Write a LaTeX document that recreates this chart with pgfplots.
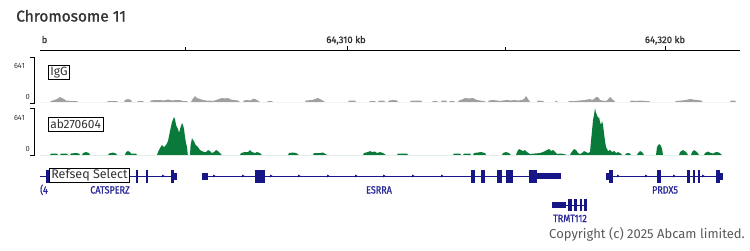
\documentclass[border=0pt]{standalone}
\usepackage{fontspec}
\setmainfont{Fira Sans}
\newfontfamily\semib[FakeBold=1.2]{Fira Sans}
\newfontfamily\condfont[FakeStretch=0.86, FakeBold=1.0]{Fira Sans}
\usepackage{pgfplots}
\usepackage{pgfplotstable}
\pgfplotsset{compat=1.18}
\definecolor{chip}{RGB}{10,122,58}
\definecolor{igg}{RGB}{160,160,160}
\definecolor{genec}{RGB}{22,22,135}
\definecolor{genel}{RGB}{40,40,150}
\definecolor{txt}{RGB}{51,51,51}
% signal heights (pixels above the track baseline; full scale 641 = 47 px)
\pgfplotstableread{
x h
40 0
50 0
51 1.5
57 1.5
58 0
60 0
61 1.5
67 1.5
68 0
70 0
71 1.5
76 2
79 1.5
80 0
82 0
83 2
86 3
89 2
90 0
108 0
109 1.5
113 2.5
116 1.5
117 0
125 0
126 3
128 4
130 3
131 1.5
136 1.5
137 0
157 0
158 3
160 7
162 10
164 8
166 10
168 14
170 24
172 33
174 38
175 36
176 30
177 28
178 26
179 22
180 26
182 32
183 30
184 26
185 18
186 12
187 8
187.8 0
190 0
190.6 10
192 17
193 15
194 14
195 11
196 10
198 8
200 5
202 4
204 3
206 3
208 5
210 4
212 2
214 3
216 5
218 4
220 2
222 0
240 0
241 2
245 3
248 3
250 5
252 3
255 2
257 3
260 2
262 0
288 0
289 2
293 2.5
296 2
299 0
313 0
314 2
320 2
323 2.5
327 0
363 0
364 2
368 3
370 4
372 3
375 3.5
377 2
380 3
383 2
386 0
397 0
398 1.5
407 1.5
408 0
453 0
454 1.5
460 1.5
461 0
463 0
464 1.5
470 1.5
471 0
473 0
474 2
478 2.5
481 3
485 2
486 0
502 0
503 2
506 3
509 2
511 0
516 0
517 3
519 6
521 5
523 4
525 5
527 3
530 1
535 1.5
540 2
543 3
545 4
547 5
549 6
551 4
553 5
555 3
557 1
560 1.5
564 1
567 0
570 0
571 2
574 6
576 5
578 2
580 1
582 2
584 4
586 3
588 2
590 3
591 14
592 24
593 35
594 40
595 47
596 42
597 40
598 37
599 38
600 33
601 30
602 34
603 30
604 22
605 14
606 8
607 6
608 4
610 5
612 3
614 4
616 2
618 3
620 2
622 0
625 0
626 1.5
629 2
631 0
637 0
638 2
640 4
642 3
644 0
656 0
657 8
659 11
661 9
662 6
663 0
679 0
680 3
683 5
686 3
688 0
691 0
692 3
694 5
697 3
699 0
704 0
705 2
708 3.5
711 2
713 1.5
716 3
719 2.5
722 0
}\chiptab
\pgfplotstableread{
x h
40 0
50 0
51 1
54 2
57 3
60 5
62 4
64 3
66 1.5
70 1
77 1
78 0
107 0
108 1
117 1
118 0
124 0
125 2
128 3
131 2
132 0
137 0
138 1
143 1
144 0
150 0
151 1.5
155 2
160 2
164 1.5
168 2.5
172 1.5
176 2
180 2
183 1
187 1
188 0
191 0
192 2
195 6
197 4
200 3
203 2
206 1.5
210 1.5
213 1
216 2
219 3
222 4
225 3.5
228 4
231 2.5
234 2
238 1.5
240 0
243 0
244 1.5
247 2
250 1.5
254 3.5
257 2
260 0
267 0
268 1
272 1
273 0
305 0
306 1.5
312 2
315 3
318 4
320 3
322 2
325 0
348 0
349 1.5
355 1.5
356 0
369 0
370 1
375 1
376 0
378 0
379 1.5
384 1.5
385 0
388 0
389 1.5
394 2
397 1.5
398 0
410 0
411 1.5
421 1.5
422 0
432 0
433 1
437 1
438 0
441 0
442 1.5
446 1.5
447 0
449 0
450 1
454 1
455 0
458 0
459 1.5
462 2.5
465 4
469 3.5
473 4
477 2
480 1.5
484 1
486 0
488 0
489 1.5
493 2
497 1.5
500 1
503 1.5
507 2
511 1.5
514 2
518 1.5
522 2
524 3
526 6
528 3
530 0
537 0
538 1.5
543 1
544 0
555 0
556 1.5
558 0
568 0
569 1
575 1
580 1.5
585 2
590 3
592 2
594 3
596 5
598 5
600 2
602 1.5
606 1
608 2.5
610 5
612 3
614 1.5
615 0
630 0
631 1.5
636 1
640 1.5
645 1
649 1
650 0
675 0
676 1
682 1.5
686 2
690 3
693 2.5
697 2
701 1.5
703 0
730 0
731 1.5
735 1.5
736 0
}\iggtab
\begin{document}
\begin{tikzpicture}
\begin{axis}[scale only axis, width=750pt, height=250pt,
  xmin=0, xmax=750, ymin=0, ymax=250, y dir=reverse,
  hide axis, clip=false, unbounded coords=jump]
% title
\node[anchor=base west, font=\semib\fontsize{15.5}{15.5}\selectfont, text=txt, inner sep=0pt] at (axis cs:16,21.5) {Chromosome 11};
% ruler
\addplot[black, line width=0.9pt] coordinates {(40,50) (740,50)};
\addplot[black, line width=0.6pt] coordinates {(185,47) (185,50) (185,nan) (347,46) (347,50) (347,nan) (505,47) (505,50) (505,nan) (665,46) (665,50)};
\node[anchor=base, font=\semib\fontsize{9.5}{9.5}\selectfont, text=txt, inner sep=0pt] at (axis cs:346,43) {64,310 kb};
\node[anchor=base, font=\semib\fontsize{9.5}{9.5}\selectfont, text=txt, inner sep=0pt] at (axis cs:665,43) {64,320 kb};
\node[anchor=base west, font=\semib\fontsize{9.5}{9.5}\selectfont, text=txt, inner sep=0pt] at (axis cs:41.5,43) {b};
% track brackets
\addplot[black, line width=0.8pt] coordinates {(30,57) (34,57) (34,103) (30,103)};
\addplot[black, line width=0.8pt] coordinates {(30,108) (34,108) (34,155) (30,155)};
\node[anchor=base east, font=\fontsize{7.5}{7.5}\selectfont, text=txt, inner sep=0pt] at (axis cs:25,68) {641};
\node[anchor=base east, font=\fontsize{7.5}{7.5}\selectfont, text=txt, inner sep=0pt] at (axis cs:30,99.5) {0};
\node[anchor=base east, font=\fontsize{7.5}{7.5}\selectfont, text=txt, inner sep=0pt] at (axis cs:25,120) {641};
\node[anchor=base east, font=\fontsize{7.5}{7.5}\selectfont, text=txt, inner sep=0pt] at (axis cs:30,151.5) {0};
% signals
\addplot[fill=igg, draw=none] table[x=x, y expr=102-\thisrow{h}] {\iggtab};
\addplot[fill=chip, draw=none] table[x=x, y expr=155-\thisrow{h}] {\chiptab};
% track labels
\node[draw=black, line width=0.6pt, fill=white, anchor=west, font=\fontsize{12}{12}\selectfont, text=txt, inner xsep=2pt, inner ysep=1.5pt, minimum height=14pt] at (axis cs:48,72.5) {IgG};
\node[draw=black, line width=0.6pt, fill=white, anchor=west, font=\fontsize{12}{12}\selectfont, text=txt, inner xsep=2pt, inner ysep=1.5pt, minimum height=14pt] at (axis cs:48,124) {ab270604};
% gene introns
\addplot[genec, line width=1pt] coordinates {(40,176) (177,176) (177,nan) (202,176) (561,176) (561,nan) (606,176) (723,176) (723,nan) (552,205) (587,205)};
% coding exons
\addplot[genec, line width=13pt] coordinates {(46,176) (52,176) (52,nan) (136.3,176) (138.3,176) (138.3,nan) (146.3,176) (148.3,176) (148.3,nan) (171,176) (174,176) (174,nan) (255,176) (265,176) (265,nan) (471,176) (474.5,176) (474.5,nan) (481,176) (485,176) (485,nan) (497,176) (502,176) (502,nan) (506,176) (513,176) (513,nan) (529,176) (537,176) (537,nan) (609,176) (613,176) (613,nan) (657,176) (661,176) (661,nan) (687,176) (690,176) (690,nan) (693,176) (695,176) (695,nan) (698,176) (700,176) (700,nan) (716,176) (720,176)};
\addplot[genec, line width=12pt] coordinates {(568,205) (571.5,205) (571.5,nan) (574,205) (576.5,205) (576.5,nan) (579.5,205) (582,205) (582,nan) (584,205) (587,205)};
% untranslated exons
\addplot[genec, line width=7pt] coordinates {(174,176) (177,176) (177,nan) (202,176) (208,176) (208,nan) (606,176) (609,176) (609,nan) (720,176) (723,176)};
\addplot[genec, line width=5.5pt] coordinates {(537,176) (561,176) (561,nan) (552,205) (566,205)};
% strand arrows
\addplot[only marks, genec, mark=triangle*, mark size=1.2pt, mark options={rotate=-90}] coordinates {(163,176) (214,176) (243,176) (271,176) (299,176) (328,176) (356,176) (384,176) (413,176) (442,176) (618,176) (646,176) (674,176) (703,176)};
% track name
\node[draw=black, line width=0.6pt, fill=white, anchor=west, font=\fontsize{12.5}{12.5}\selectfont, text=txt, inner xsep=2pt, inner ysep=1pt, minimum height=14pt] at (axis cs:49,175) {Refseq Select};
% gene names
\node[anchor=base, font=\condfont\fontsize{10.5}{10.5}\selectfont, text=genel, inner sep=0pt] at (axis cs:110,193.5) {CATSPERZ};
\node[anchor=base, font=\condfont\fontsize{10.5}{10.5}\selectfont, text=genel, inner sep=0pt] at (axis cs:379,193.5) {ESRRA};
\node[anchor=base, font=\condfont\fontsize{10.5}{10.5}\selectfont, text=genel, inner sep=0pt] at (axis cs:665,193.5) {PRDX5};
\node[anchor=base, font=\condfont\fontsize{10.5}{10.5}\selectfont, text=genel, inner sep=0pt] at (axis cs:570,222) {TRMT112};
\node[anchor=base west, font=\condfont\fontsize{10.5}{10.5}\selectfont, text=genel, inner sep=0pt] at (axis cs:40,193.5) {(4};
% copyright
\node[anchor=base east, font=\fontsize{13}{13}\selectfont, text=black!65, inner sep=0pt] at (axis cs:745,238) {Copyright (c) 2025 Abcam limited.};
\end{axis}
\pgfresetboundingbox
\path (current axis.south west) rectangle (current axis.north east);
\end{tikzpicture}
\end{document}
